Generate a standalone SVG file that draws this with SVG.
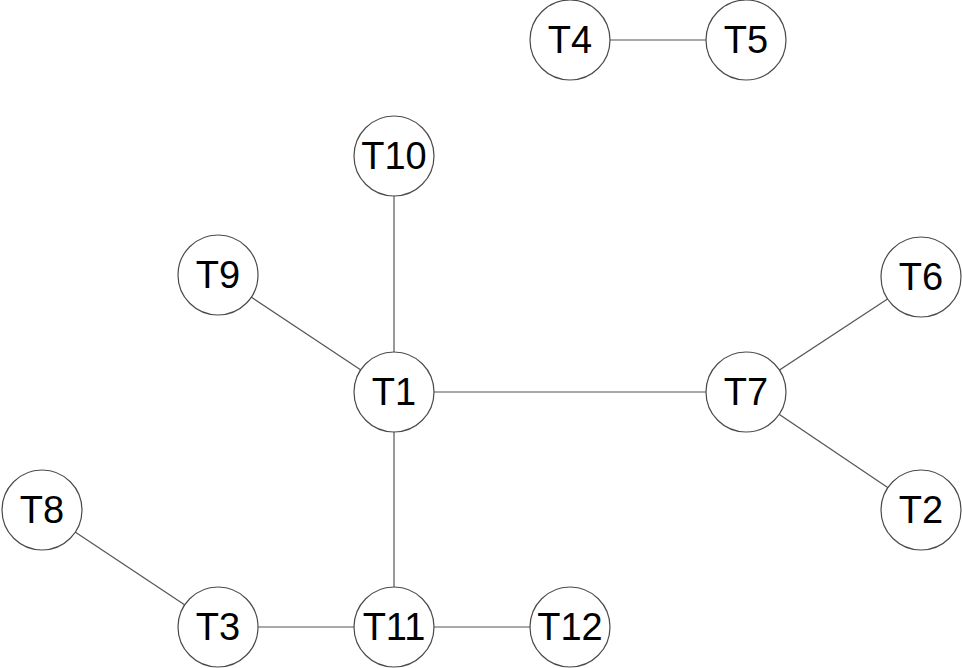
<svg xmlns="http://www.w3.org/2000/svg" width="962" height="668" viewBox="0 0 962 668">
  <style>
    .node circle { fill: #ffffff; stroke: #4a4a4a; stroke-width: 1.2; }
    .node text { font-family: "Liberation Sans", Arial, Helvetica, sans-serif; font-size: 38px; fill: #000000; text-anchor: middle; dominant-baseline: central; }
    #edges line { stroke: #555555; stroke-width: 1.2; }
  </style>
  <rect width="962" height="668" fill="#ffffff"/>
  <g id="edges">
    <line x1="570" y1="40" x2="746" y2="40"/>
    <line x1="394" y1="156" x2="394" y2="392"/>
    <line x1="218" y1="275" x2="394" y2="392"/>
    <line x1="394" y1="392" x2="746" y2="392"/>
    <line x1="746" y1="392" x2="921" y2="277"/>
    <line x1="746" y1="392" x2="921" y2="510"/>
    <line x1="394" y1="392" x2="394" y2="627"/>
    <line x1="42" y1="510" x2="218" y2="627"/>
    <line x1="218" y1="627" x2="394" y2="627"/>
    <line x1="394" y1="627" x2="570" y2="627"/>
  </g>
  <g id="T4" class="node"><circle cx="570" cy="40" r="40"/><text x="570" y="40">T4</text></g>
  <g id="T5" class="node"><circle cx="746" cy="40" r="40"/><text x="746" y="40">T5</text></g>
  <g id="T10" class="node"><circle cx="394" cy="156" r="40"/><text x="394" y="156">T10</text></g>
  <g id="T9" class="node"><circle cx="218" cy="275" r="40"/><text x="218" y="275">T9</text></g>
  <g id="T6" class="node"><circle cx="921" cy="277" r="40"/><text x="921" y="277">T6</text></g>
  <g id="T1" class="node"><circle cx="394" cy="392" r="40"/><text x="394" y="392">T1</text></g>
  <g id="T7" class="node"><circle cx="746" cy="392" r="40"/><text x="746" y="392">T7</text></g>
  <g id="T8" class="node"><circle cx="42" cy="510" r="40"/><text x="42" y="510">T8</text></g>
  <g id="T2" class="node"><circle cx="921" cy="510" r="40"/><text x="921" y="510">T2</text></g>
  <g id="T3" class="node"><circle cx="218" cy="627" r="40"/><text x="218" y="627">T3</text></g>
  <g id="T11" class="node"><circle cx="394" cy="627" r="40"/><text x="394" y="627">T11</text></g>
  <g id="T12" class="node"><circle cx="570" cy="627" r="40"/><text x="570" y="627">T12</text></g>
</svg>
